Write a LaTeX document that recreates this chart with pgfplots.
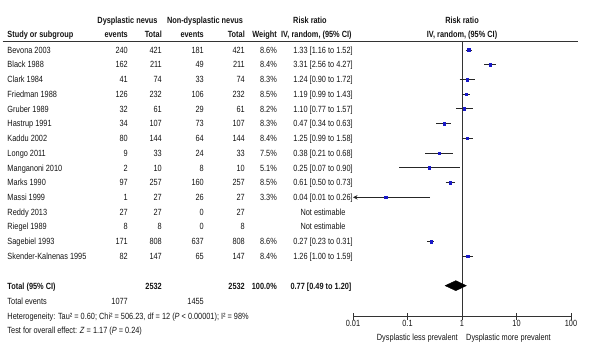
\documentclass[border=0pt]{standalone}
\usepackage{fontspec}
\setmainfont{Liberation Sans}[FakeStretch=0.82]
\usepackage{pgfplots}
\pgfplotsset{compat=1.18}
\usetikzlibrary{arrows.meta}
\definecolor{sqblue}{RGB}{25,25,200}
\definecolor{txt}{RGB}{20,20,20}
\tikzset{t/.style={font=\fontsize{9}{10}\selectfont, inner sep=0pt, text=txt},
         tb/.style={t, font=\fontsize{9}{10}\selectfont\bfseries}}
\begin{document}
\begin{tikzpicture}[x=1bp,y=1bp]
\path (0,0) rectangle (600,-352);
% header
\node[tb,anchor=base] at (127.5,-23.2) {Dysplastic nevus};
\node[tb,anchor=base] at (205,-23.2) {Non-dysplastic nevus};
\node[tb,anchor=base west] at (293,-23.2) {Risk ratio};
\node[tb,anchor=base] at (462,-23.2) {Risk ratio};
\node[tb,anchor=base west] at (7.3,-37.2) {Study or subgroup};
\node[tb,anchor=base east] at (128,-37.2) {events};
\node[tb,anchor=base east] at (162,-37.2) {Total};
\node[tb,anchor=base east] at (204,-37.2) {events};
\node[tb,anchor=base east] at (245,-37.2) {Total};
\node[tb,anchor=base east] at (277,-37.2) {Weight};
\node[tb,anchor=base west] at (281,-37.2) {IV, random, (95\% CI)};
\node[tb,anchor=base] at (462,-37.2) {IV, random, (95\% CI)};
\draw[black!80, line width=0.8bp] (2.5,-41.7) -- (578,-41.7);
% rows
\foreach \i/\n/\a/\b/\c/\d/\w/\r in {
 0/Bevona 2003/240/421/181/421/8.6\%/1.33 [1.16 to 1.52],
 1/Black 1988/162/211/49/211/8.4\%/3.31 [2.56 to 4.27],
 2/Clark 1984/41/74/33/74/8.3\%/1.24 [0.90 to 1.72],
 3/Friedman 1988/126/232/106/232/8.5\%/1.19 [0.99 to 1.43],
 4/Gruber 1989/32/61/29/61/8.2\%/1.10 [0.77 to 1.57],
 5/Hastrup 1991/34/107/73/107/8.3\%/0.47 [0.34 to 0.63],
 6/Kaddu 2002/80/144/64/144/8.4\%/1.25 [0.99 to 1.58],
 7/Longo 2011/9/33/24/33/7.5\%/0.38 [0.21 to 0.68],
 8/Manganoni 2010/2/10/8/10/5.1\%/0.25 [0.07 to 0.90],
 9/Marks 1990/97/257/160/257/8.5\%/0.61 [0.50 to 0.73],
 10/Massi 1999/1/27/26/27/3.3\%/0.04 [0.01 to 0.26],
 11/Reddy 2013/27/27/0/27/{}/Not estimable,
 12/Riegel 1989/8/8/0/8/{}/Not estimable,
 13/Sagebiel 1993/171/808/637/808/8.6\%/0.27 [0.23 to 0.31],
 14/Skender-Kalnenas 1995/82/147/65/147/8.4\%/1.26 [1.00 to 1.59]} {
  \pgfmathsetmacro{\yy}{-(53.2+14.73*\i)}
  \node[t,anchor=base west] at (7.3,\yy) {\n};
  \node[t,anchor=base east] at (128,\yy) {\a};
  \node[t,anchor=base east] at (162,\yy) {\b};
  \node[t,anchor=base east] at (204,\yy) {\c};
  \node[t,anchor=base east] at (245,\yy) {\d};
  \node[t,anchor=base east] at (277,\yy) {\w};
  \node[t,anchor=base] at (323,\yy) {\r};
}
% total
\node[tb,anchor=base west] at (7.3,-289.3) {Total (95\% CI)};
\node[tb,anchor=base east] at (162,-289.3) {2532};
\node[tb,anchor=base east] at (245,-289.3) {2532};
\node[tb,anchor=base east] at (277,-289.3) {100.0\%};
\node[tb,anchor=base] at (321,-289.3) {0.77 [0.49 to 1.20]};
\node[t,anchor=base west] at (7.3,-304.6) {Total events};
\node[t,anchor=base east] at (128,-304.6) {1077};
\node[t,anchor=base east] at (204,-304.6) {1455};
\node[t,anchor=base west] at (7.3,-319.2) {Heterogeneity: Tau² = 0.60; Chi² = 506.23, df = 12 (\textit{P} < 0.00001); I² = 98\%};
\node[t,anchor=base west] at (7.3,-333.6) {Test for overall effect: \textit{Z} = 1.17 (\textit{P} = 0.24)};
\node[t,anchor=base east] at (458,-340.4) {Dysplastic less prevalent};
\node[t,anchor=base west] at (466,-340.4) {Dysplastic more prevalent};
\begin{axis}[
  at={(353bp,-41.7bp)}, anchor=north west,
  scale only axis, width=218bp, height=274.3bp,
  xmode=log, xmin=0.01, xmax=100, ymin=-18.06, ymax=0.56,
  axis x line=bottom, axis y line=none,
  x axis line style={-, draw=black!80, line width=0.7bp},
  xtick={0.01,0.1,1,10,100}, xticklabels={0.01,0.1,1,10,100},
  xminorticks=false,
  tick align=center, major tick length=7bp,
  tick style={black!80, line width=0.6bp},
  xticklabel style={font=\fontsize{9}{10}\selectfont, text=txt, inner sep=1pt},
  /pgf/number format/assume math mode=true,
  clip=false,
]
\addplot[black!80, line width=0.6bp] coordinates {(1,-18.06) (1,0.56)};
% confidence intervals
\addplot[black!85, line width=0.9bp] coordinates {(1.16,0) (1.52,0)};
\addplot[black!85, line width=0.9bp] coordinates {(2.56,-1) (4.27,-1)};
\addplot[black!85, line width=0.9bp] coordinates {(0.90,-2) (1.72,-2)};
\addplot[black!85, line width=0.9bp] coordinates {(0.99,-3) (1.43,-3)};
\addplot[black!85, line width=0.9bp] coordinates {(0.77,-4) (1.57,-4)};
\addplot[black!85, line width=0.9bp] coordinates {(0.34,-5) (0.63,-5)};
\addplot[black!85, line width=0.9bp] coordinates {(0.99,-6) (1.58,-6)};
\addplot[black!85, line width=0.9bp] coordinates {(0.21,-7) (0.68,-7)};
\addplot[black!85, line width=0.9bp] coordinates {(0.07,-8) (0.90,-8)};
\addplot[black!85, line width=0.9bp] coordinates {(0.50,-9) (0.73,-9)};
\addplot[black!85, line width=0.9bp, -{Stealth[length=4.5bp,width=4.5bp]}] coordinates {(0.26,-10) (0.01,-10)};
\addplot[black!85, line width=0.9bp] coordinates {(0.23,-13) (0.31,-13)};
\addplot[black!85, line width=0.9bp] coordinates {(1.00,-14) (1.59,-14)};
% point estimates
\addplot[only marks, mark=square*, mark size=1.3bp, color=sqblue] coordinates {
 (1.33,0) (3.31,-1) (1.24,-2) (1.19,-3) (1.10,-4) (0.47,-5) (1.25,-6)
 (0.38,-7) (0.25,-8) (0.61,-9) (0.04,-10) (0.27,-13) (1.26,-14)};
% pooled estimate
\addplot[fill=black, draw=black] coordinates {(0.49,-16) (0.77,-15.66) (1.20,-16) (0.77,-16.34)} -- cycle;
\end{axis}
\end{tikzpicture}
\end{document}
